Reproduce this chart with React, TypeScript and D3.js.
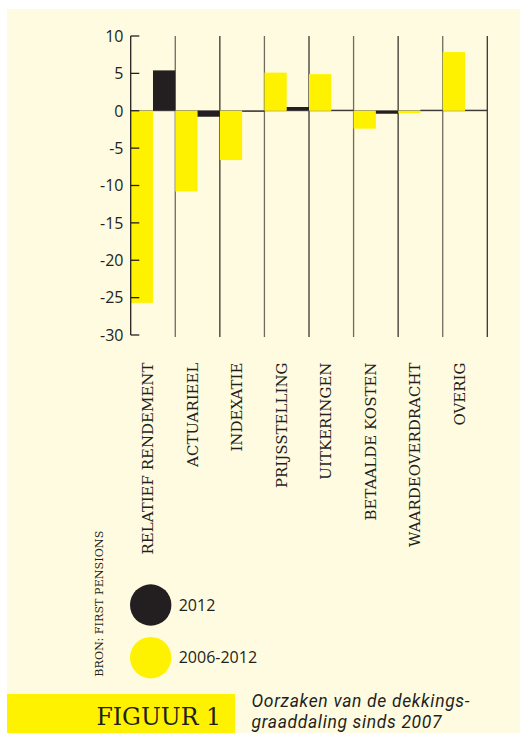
import React from "react";
import * as d3 from "d3";

const categories = [
  "RELATIEF RENDEMENT",
  "ACTUARIEEL",
  "INDEXATIE",
  "PRIJSSTELLING",
  "UITKERINGEN",
  "BETAALDE KOSTEN",
  "WAARDEOVERDRACHT",
  "OVERIG",
];
const values2006_2012 = [-25.7, -10.8, -6.6, 5.1, 4.9, -2.4, -0.3, 7.85];
const values2012 = [5.4, -0.8, -0.1, 0.5, 0.1, -0.4, 0.05, 0.0];
const yTicks = [10, 5, 0, -5, -10, -15, -20, -25, -30];
const legendLabels = ["2012", "2006-2012"];

const CREAM = "#fffbe0";
const YELLOW = "#fff200";
const BLACK = "#231f20";
const GRID = "#6e6a60";
const SANS = "'Open Sans', 'Noto Sans', sans-serif";
const CAPTION = "Roboto, 'Open Sans', sans-serif";
const SERIF = "'DejaVu Serif', 'Liberation Serif', serif";

export default function App() {
  const W = 521;
  const H = 733;
  const x = d3.scaleBand().domain(categories).range([130.7, 487.3]).padding(0);
  const y = d3.scaleLinear().domain([-30, 10]).range([335, 36]);
  const bw = x.bandwidth() / 2;

  return (
    <div style={{ position: "absolute", left: 0, top: 0 }}>
      <svg width={W} height={H} style={{ display: "block" }}>
        <rect x={0} y={0} width={W} height={H} fill="#ffffff" />
        <rect x={7} y={9} width={513} height={H - 9} fill={CREAM} />

        {/* grid lines (category separators) */}
        {categories.map((c, i) => (
          <line
            key={"g" + i}
            x1={x(c)! + x.bandwidth()}
            x2={x(c)! + x.bandwidth()}
            y1={36}
            y2={337}
            stroke={i % 2 === 0 ? GRID : "#3a3630"}
            strokeWidth={1.3}
          />
        ))}

        {/* zero line */}
        <line x1={130.7} x2={487.3} y1={y(0)} y2={y(0)} stroke={GRID} strokeWidth={1} />

        {/* bars */}
        {categories.map((c, i) => {
          const v = values2006_2012[i];
          return (
            <rect
              key={"y" + i}
              x={x(c)!}
              width={bw}
              y={Math.min(y(v), y(0))}
              height={Math.abs(y(v) - y(0))}
              fill={YELLOW}
            />
          );
        })}
        {categories.map((c, i) => {
          const v = values2012[i];
          const h = Math.max(Math.abs(y(v) - y(0)), 1);
          return (
            <rect
              key={"b" + i}
              x={x(c)! + bw}
              width={bw}
              y={v >= 0 ? y(0) - h : y(0)}
              height={h}
              fill={BLACK}
            />
          );
        })}

        {/* y axis */}
        <line x1={130.7} x2={130.7} y1={y(10)} y2={y(-30)} stroke={BLACK} strokeWidth={1.3} />
        {yTicks.map((t) => (
          <g key={"t" + t}>
            <line x1={130.7} x2={139.3} y1={y(t)} y2={y(t)} stroke={BLACK} strokeWidth={1.3} />
            <text
              x={123.5}
              y={y(t)}
              dy="0.36em"
              textAnchor="end"
              fontFamily={SANS}
              fontSize={16}
              fill={BLACK}
            >
              {t < 0 ? "-" + Math.abs(t) : String(t)}
            </text>
          </g>
        ))}

        {/* category labels */}
        {categories.map((c) => {
          const cx = x(c)! + x.bandwidth() / 2;
          return (
            <text
              key={"l" + c}
              transform={`translate(${cx},362.5) rotate(-90)`}
              textAnchor="end"
              fontFamily={SERIF}
              fontSize={15}
              fill={BLACK}
            >
              {c}
            </text>
          );
        })}

        {/* source */}
        <text
          transform="translate(103.3,676.7) rotate(-90)"
          textAnchor="start"
          fontFamily={SERIF}
          fontSize={11.2}
          fill={BLACK}
        >
          BRON: FIRST PENSIONS
        </text>

        {/* legend */}
        {legendLabels.map((l, i) => (
          <g key={"lg" + i} transform={`translate(150.7,${605 + i * 52.7})`}>
            <circle r={20.7} fill={i === 0 ? BLACK : YELLOW} />
            <text x={28} dy="0.36em" fontFamily={SANS} fontSize={16} fill={BLACK}>
              {l}
            </text>
          </g>
        ))}

        {/* figure title */}
        <rect x={7} y={694} width={228} height={H - 694} fill={YELLOW} />
        <text x={221} y={725} textAnchor="end" fontFamily={SERIF} fontSize={23.6} fill={BLACK}>
          FIGUUR 1
        </text>
        <text
          x={251.5}
          y={706.5}
          fontFamily={CAPTION}
          fontStyle="italic"
          fontSize={17.5}
          textLength={218}
          lengthAdjust="spacing"
          fill={BLACK}
        >
          Oorzaken van de dekkings-
        </text>
        <text
          x={251.5}
          y={727.5}
          fontFamily={CAPTION}
          fontStyle="italic"
          fontSize={17.5}
          textLength={190}
          lengthAdjust="spacing"
          fill={BLACK}
        >
          graaddaling sinds 2007
        </text>
      </svg>
    </div>
  );
}
